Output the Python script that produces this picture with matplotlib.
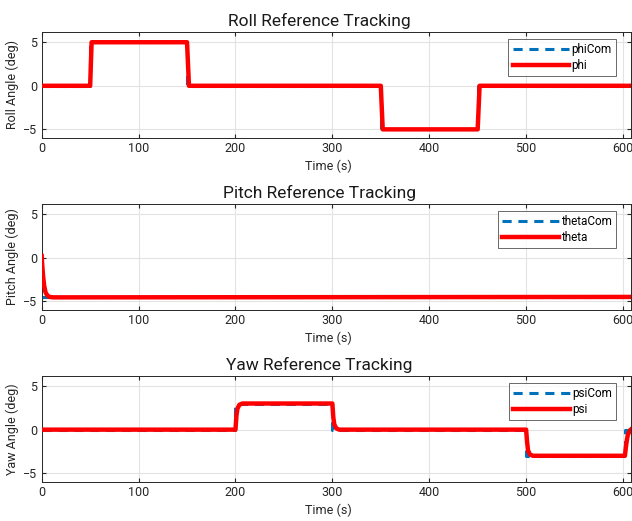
import numpy as np
import matplotlib.pyplot as plt

plt.rcParams['font.family'] = ['Roboto', 'DejaVu Sans']

# roll command / response breakpoints (s, deg)
roll_cmd_t = [0, 50, 150, 350, 450, 608]
roll_cmd = [0, 5, 0, -5, 0, 0]
roll_t = [0, 50, 51.5, 150, 152, 350, 352, 450, 452, 608]
roll = [0, 0, 5, 5, 0, 0, -5, -5, 0, 0]

# pitch command / response
pitch_cmd_t = [0, 608]
pitch_cmd = [-4.5, -4.5]
pitch_t = [0, 0.5, 1.5, 2.5, 4, 6, 8, 12, 608]
pitch = [0.2, -0.8, -2.2, -3.2, -4.0, -4.35, -4.5, -4.55, -4.5]

# yaw command / response
yaw_cmd_t = [0, 200, 300, 500, 602, 608]
yaw_cmd = [0, 3, 0, -3, 0, 0]
yaw_t = [0, 200, 201, 202, 204, 207, 300, 301, 302, 304, 307,
         500, 501, 502, 504, 507, 602, 603, 604, 605, 607, 608]
yaw = [0, 0, 1.6, 2.4, 2.85, 3.0, 3.0, 1.4, 0.6, 0.15, 0,
       0, -1.4, -2.4, -2.85, -3.0, -3.0, -2.0, -1.2, -0.6, -0.1, 0]

panels = [
    ("Roll Reference Tracking", "Roll Angle (deg)", "phiCom", "phi",
     roll_cmd_t, roll_cmd, roll_t, roll, 'steps-post'),
    ("Pitch Reference Tracking", "Pitch Angle (deg)", "thetaCom", "theta",
     pitch_cmd_t, pitch_cmd, pitch_t, pitch, 'default'),
    ("Yaw Reference Tracking", "Yaw Angle (deg)", "psiCom", "psi",
     yaw_cmd_t, yaw_cmd, yaw_t, yaw, 'steps-post'),
]

fig = plt.figure(figsize=(6.32, 5.21), dpi=100)
bottoms = [0.735, 0.405, 0.075]
text_col = '#262626'

for (title, ylab, cname, rname, ct, cv, rt, rv, ds), b in zip(panels, bottoms):
    ax = fig.add_axes([0.066, b, 0.932, 0.204])
    ax.plot(ct, cv, color='#0072BD', lw=2.2, ls=(0, (3, 2.2)),
            drawstyle=ds, label=cname, zorder=2)
    ax.plot(rt, rv, color='#ff0000', lw=3.2, label=rname, zorder=3)
    ax.set_xlim(0, 608)
    ax.set_ylim(-6, 6.2)
    ax.set_xticks(np.arange(0, 601, 100))
    ax.set_yticks([-5, 0, 5])
    ax.grid(True, color='#e3e3e3', lw=0.8)
    ax.set_axisbelow(True)
    ax.tick_params(direction='in', top=True, right=True, length=3,
                   labelsize=9, colors=text_col, pad=3)
    for s in ax.spines.values():
        s.set_color(text_col)
        s.set_linewidth(0.7)
    ax.set_title(title, fontsize=12.5, color='#1a1a1a', pad=4, x=0.472)
    ax.set_xlabel("Time (s)", fontsize=9, color=text_col, labelpad=2)
    ax.xaxis.set_label_coords(0.487, -0.2)
    ax.set_ylabel(ylab, fontsize=9, color=text_col, labelpad=3)
    leg = ax.legend(loc='upper right', bbox_to_anchor=(0.975, 0.93),
                    fontsize=8.5, handlelength=4.8,
                    frameon=True, fancybox=False, borderaxespad=0,
                    labelspacing=0.25, handletextpad=0.2, borderpad=0.35)
    leg.get_frame().set_edgecolor(text_col)
    leg.get_frame().set_linewidth(0.6)

fig.savefig("out.png", dpi=100)
